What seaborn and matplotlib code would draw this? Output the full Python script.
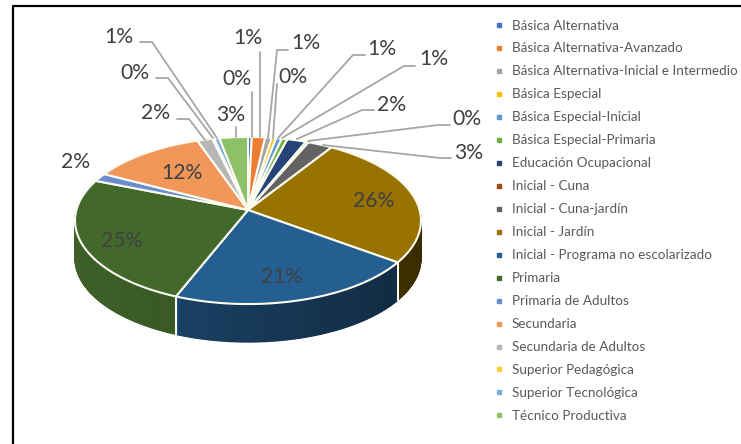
import numpy as np
import matplotlib
matplotlib.use("Agg")
import matplotlib.pyplot as plt
import seaborn as sns
from matplotlib.lines import Line2D

categories = ["Básica Alternativa", "Básica Alternativa-Avanzado", "Básica Alternativa-Inicial e Intermedio",
              "Básica Especial", "Básica Especial-Inicial", "Básica Especial-Primaria", "Educación Ocupacional",
              "Inicial - Cuna", "Inicial - Cuna-jardín", "Inicial - Jardín", "Inicial - Programa no escolarizado",
              "Primaria", "Primaria de Adultos", "Secundaria", "Secundaria de Adultos", "Superior Pedagógica",
              "Superior Tecnológica", "Técnico Productiva"]
values = [0.4, 1.4, 0.7, 0.45, 0.6, 0.6, 2.0, 0.3, 2.6, 26.0, 21.0, 25.0, 1.6, 12.0, 1.6, 0.2, 0.55, 3.0]
colors = ["#4472c4", "#ed7d31", "#a5a5a5", "#ffc000", "#5b9bd5", "#70ad47", "#264478", "#9e480e", "#636363",
          "#997300", "#255e91", "#43682b", "#698ed0", "#f1975a", "#b7b7b7", "#ffcd33", "#7cafdd", "#8cc168"]
# label centres (px)
label_pos = [(237, 79), (248, 38), (306, 43), (293, 77), (382, 49), (434, 59), (392, 105), (467, 119),
             (469, 153), (374, 201), (282, 277), (122, 241), (76, 162), (182, 173), (156, 113), (135, 73),
             (119, 37), (231, 115)]
# leader polylines (px), None for labels without a leader
leaders = [[(252, 92), (252, 137)], [(260, 52), (260, 137)], [(288, 50), (277, 50), (268, 138)],
           [(277, 84), (273, 138)], [(365, 55), (353, 55), (278, 138)], [(415, 66), (404, 66), (282, 138)],
           [(374, 110), (362, 110), (297, 139)], [(450, 125), (438, 125), (308, 141)],
           [(451, 158), (440, 158), (323, 145)], None, None, None, None, None,
           [(177, 119), (189, 119), (205, 140)], [(156, 78), (168, 78), (213, 138)],
           [(140, 42), (152, 42), (217, 138)], [(236, 127), (236, 137)]]

sns.set_theme(style="white")
plt.rcParams["font.family"] = ["Lato", "DejaVu Sans"]
fig, ax = plt.subplots(figsize=(7.41, 4.44), dpi=100)
ax.set_position([0, 0, 1, 1])
ax.set_xlim(0, 741); ax.set_ylim(444, 0); ax.axis("off")

cx, cy, rx0, ry0, k, depth = 248, 210, 171.6, 82.2, 0.126, 38

def project(theta):
    u, v = np.sin(theta), np.cos(theta)
    w = 1 + k * v
    return cx + rx0 * u / w, cy - ry0 * v / w

def darker(c, f):
    return tuple(f * x for x in matplotlib.colors.to_rgb(c))

fracs = np.array(values) / np.sum(values)
ends = np.cumsum(fracs) * 2 * np.pi
starts = ends - fracs * 2 * np.pi
edge = "#fbfbf0"

# side walls
for s, e, c in zip(starts, ends, colors):
    th = np.linspace(s, e, 121)
    th = th[np.cos(th) < 0.15]
    if len(th) < 2:
        continue
    x, y = project(th)
    for a in range(len(th) - 1):
        shade = np.interp((x[a] + x[a + 1]) / 2, [77, 177, 178, 398, 399, 423], [0.92, 0.85, 0.68, 0.46, 0.42, 0.38])
        ax.fill([x[a], x[a + 1], x[a + 1], x[a]], [y[a], y[a + 1], y[a + 1] + depth, y[a] + depth],
                color=darker(c, shade), lw=0.8, zorder=2)
    for xe, ye in ((x[0], y[0]), (x[-1], y[-1])):
        if 90 < xe < 410:
            ax.plot([xe, xe], [ye, ye + depth], color=edge, lw=1.4, zorder=3)

# top surface
for s, e, c in zip(starts, ends, colors):
    th = np.linspace(s, e, 80)
    x, y = project(th)
    ax.fill(np.r_[cx, x], np.r_[cy, y], facecolor=c, edgecolor=edge, lw=1.5, zorder=4, joinstyle="round")

# data labels and leader lines
for v, pos, pts in zip(values, label_pos, leaders):
    ax.text(pos[0], pos[1], f"{round(v):d}%", fontsize=15.2, color="#404040", ha="center", va="center", zorder=6)
    if pts is not None:
        ax.plot(*zip(*pts), color="#a6a6a6", lw=1.3, zorder=5, solid_joinstyle="miter")

# legend
handles = [Line2D([], [], ls="", marker="s", ms=3.0, color=c) for c in colors]
ax.legend(handles, categories, loc="upper left", bbox_to_anchor=(494.5 / 741, 1 - 19.5 / 444), frameon=False,
          fontsize=9.7, labelcolor="#595959", labelspacing=0.815, handlelength=0.7, handletextpad=0.6,
          borderpad=0, borderaxespad=0)

# chart frame (only left and top edges are visible)
ax.plot([12.5, 12.5, 741], [444, 6.5, 6.5], color="black", lw=1.6, zorder=7, clip_on=False)

fig.savefig("out.png", dpi=100)
